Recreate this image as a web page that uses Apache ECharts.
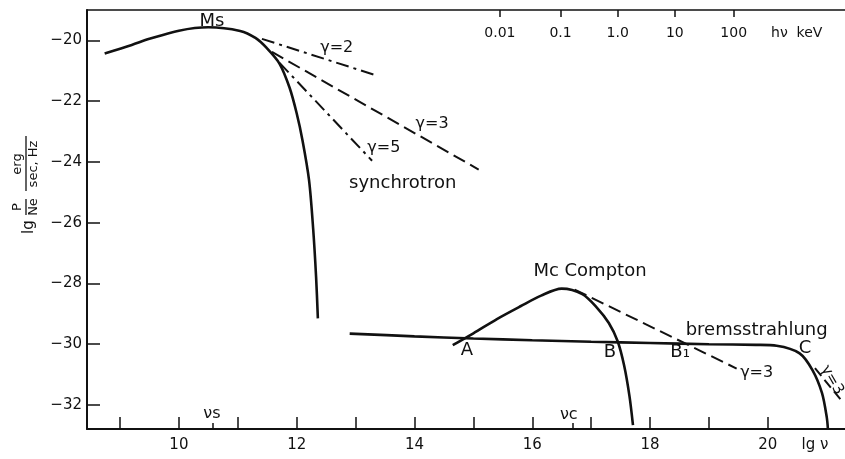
<!DOCTYPE html>
<html><head><meta charset="utf-8">
<script src="https://cdn.jsdelivr.net/npm/echarts@6/dist/echarts.min.js"></script>
<style>html,body{margin:0;padding:0;background:#fff}#c{width:845px;height:459px}</style>
</head><body><div id="c"></div>
<script>
// ---- axes ----
const xMin = 8.44, xMax = 21.31;
const yMin = -32.79, yMax = -19.0;
const xTicks = [9, 10, 11, 12, 13, 14, 15, 16, 17, 18, 19, 20];
const xLabels = [10, 12, 14, 16, 18, 20];
const xTitlePos = 20.8;              // "lg ν"
const nuMarks = [10.58, 16.69];      // νs, νc
const yTicks = [-32, -30, -28, -26, -24, -22, -20];
const topTickPos = [15.45, 16.48, 17.45, 18.42, 19.42];
const topTickLabels = ['0.01', '0.1', '1.0', '10', '100'];
const topTitlePos = 20.49;           // "hν keV"

// ---- curves (lg ν, lg P/Ne) ----
const synchrotron = [[8.74,-20.43],[9.2,-20.15],[9.5,-19.95],[10.0,-19.68],[10.5,-19.57],[11.04,-19.69],[11.3,-19.92],[11.49,-20.25],[11.71,-20.77],[11.88,-21.56],[12.0,-22.4],[12.1,-23.3],[12.21,-24.6],[12.28,-26.2],[12.33,-27.8],[12.36,-29.15]];
const gamma2 = [[11.41,-19.95],[13.38,-21.17]];
const gamma3 = [[11.58,-20.38],[15.09,-24.25]];
const gamma5 = [[11.71,-20.74],[13.28,-23.96]];
const compton = [[14.65,-30.03],[15.0,-29.64],[15.4,-29.17],[15.8,-28.75],[16.15,-28.4],[16.5,-28.17],[16.85,-28.35],[17.1,-28.8],[17.3,-29.3],[17.45,-29.9],[17.56,-30.7],[17.65,-31.7],[17.71,-32.66]];
const comptonGamma3 = [[16.72,-28.2],[19.47,-30.8]];
const bremsstrahlung = [[12.9,-29.65],[14,-29.74],[15,-29.81],[16,-29.87],[17,-29.92],[18,-29.96],[19,-30.0],[19.8,-30.02],[20.15,-30.05],[20.54,-30.3],[20.76,-30.86],[20.92,-31.61],[21.0,-32.4],[21.02,-32.79]];
const bremsGamma3 = [[20.8,-30.79],[21.27,-31.9]];

// ---- annotations [x, y, text, rotate, fontSize] ----
const annotations = [
  [10.56,-19.36,'Ms',0,18],
  [12.68,-20.25,'γ=2',0,16],
  [14.30,-22.74,'γ=3',0,16],
  [13.48,-23.53,'γ=5',0,16],
  [13.80,-24.71,'synchrotron',0,18],
  [16.98,-27.6,'Mc Compton',0,18],
  [19.81,-29.54,'bremsstrahlung',0,18],
  [14.89,-30.19,'A',0,18],
  [17.32,-30.26,'B',0,18],
  [18.51,-30.26,'B\u2081',0,18],
  [20.63,-30.13,'C',0,18],
  [19.81,-30.95,'γ=3',0,16],
  [21.09,-31.18,'γ=3',-60,15],
  [10.56,-32.3,'νs',0,16],
  [16.62,-32.33,'νc',0,16]
];

const FONT = 'DejaVu Sans';
const INK = '#111';
function lineSeries(data, type, width, smooth) {
  return {type:'line', data, xAxisIndex:0, yAxisIndex:0, symbol:'none', smooth: smooth ? 0.3 : false,
    lineStyle:{color:INK, width, type}, silent:true, z:3};
}
const chart = echarts.init(document.getElementById('c'));
chart.setOption({
  animation:false,
  backgroundColor:'#fff',
  grid:{left:87, right:0, top:10, bottom:30},
  xAxis:[
    {type:'value', min:xMin, max:xMax, position:'bottom',
     axisLine:{show:true, lineStyle:{color:INK, width:2}},
     axisTick:{show:true, inside:true, length:12, customValues:xTicks, lineStyle:{color:INK, width:1.5}},
     axisLabel:{show:true, customValues:xLabels.concat([xTitlePos]), margin:9, color:INK, fontFamily:FONT, fontSize:15,
       formatter:v => (Math.abs(v - xTitlePos) < 1e-6 ? 'lg ν' : String(v))},
     splitLine:{show:false}},
    {type:'value', min:xMin, max:xMax, position:'top',
     axisLine:{show:true, onZero:false, lineStyle:{color:INK, width:1.5}},
     axisTick:{show:true, inside:true, length:7, customValues:topTickPos, lineStyle:{color:INK, width:1.5}},
     axisLabel:{show:true, inside:true, customValues:topTickPos.concat([topTitlePos]), margin:16, color:INK, fontFamily:FONT, fontSize:14,
       formatter:v => { if (Math.abs(v - topTitlePos) < 1e-6) return 'hν  keV'; const i = topTickPos.findIndex(t => Math.abs(t - v) < 1e-6); return i >= 0 ? topTickLabels[i] : ''; }},
     splitLine:{show:false}},
    {type:'value', min:xMin, max:xMax, position:'bottom',
     axisLine:{show:false},
     axisTick:{show:true, inside:true, length:6, customValues:nuMarks, lineStyle:{color:INK, width:1.5}},
     axisLabel:{show:false}, splitLine:{show:false}}
  ],
  yAxis:[{type:'value', min:yMin, max:yMax,
    axisLine:{show:true, onZero:false, lineStyle:{color:INK, width:2}},
    axisTick:{show:true, inside:true, length:13, customValues:yTicks, lineStyle:{color:INK, width:1.5}},
    axisLabel:{show:true, customValues:yTicks, margin:5, color:INK, fontFamily:FONT, fontSize:15,
      formatter:v => String(v).replace('-', '\u2212')},
    splitLine:{show:false}}],
  series:[
    lineSeries(synchrotron, 'solid', 2.6, true),
    lineSeries(gamma2, [13,5,3,5], 2, false),
    lineSeries(gamma3, [13,6], 2, false),
    lineSeries(gamma5, [13,5,3,5], 2, false),
    lineSeries(compton, 'solid', 2.6, true),
    lineSeries(comptonGamma3, [13,6], 2, false),
    lineSeries(bremsstrahlung, 'solid', 2.6, true),
    lineSeries(bremsGamma3, [10,5], 2, false),
    {type:'scatter', xAxisIndex:0, yAxisIndex:0, symbolSize:0, clip:false, silent:true, z:5,
     itemStyle:{opacity:1},
     data: annotations.map(a => ({value:[a[0], a[1]], name:a[2], label:{rotate:a[3], fontSize:a[4]}})),
     label:{show:true, position:'inside', formatter:p => p.name, color:INK, opacity:1, fontFamily:FONT, fontSize:16,
       align:'center', verticalAlign:'middle'}}
  ],
  graphic:[{
    type:'group', x:26, y:234, rotation:Math.PI/2,
    children:[
      {type:'text', x:0, y:3, style:{text:'lg', fontFamily:FONT, fontSize:15, fill:INK, align:'left', verticalAlign:'middle'}},
      {type:'text', x:27, y:-8, style:{text:'P', fontFamily:FONT, fontSize:13, fill:INK, align:'center', verticalAlign:'middle'}},
      {type:'line', shape:{x1:19, y1:0, x2:35, y2:0}, style:{stroke:INK, lineWidth:1.3}},
      {type:'text', x:27, y:8, style:{text:'Ne', fontFamily:FONT, fontSize:13, fill:INK, align:'center', verticalAlign:'middle'}},
      {type:'text', x:70, y:-8, style:{text:'erg', fontFamily:FONT, fontSize:13, fill:INK, align:'center', verticalAlign:'middle'}},
      {type:'line', shape:{x1:43, y1:0, x2:98, y2:0}, style:{stroke:INK, lineWidth:1.3}},
      {type:'text', x:70, y:8, style:{text:'sec, Hz', fontFamily:FONT, fontSize:13, fill:INK, align:'center', verticalAlign:'middle'}}
    ]
  }]
});
</script>
</body></html>
